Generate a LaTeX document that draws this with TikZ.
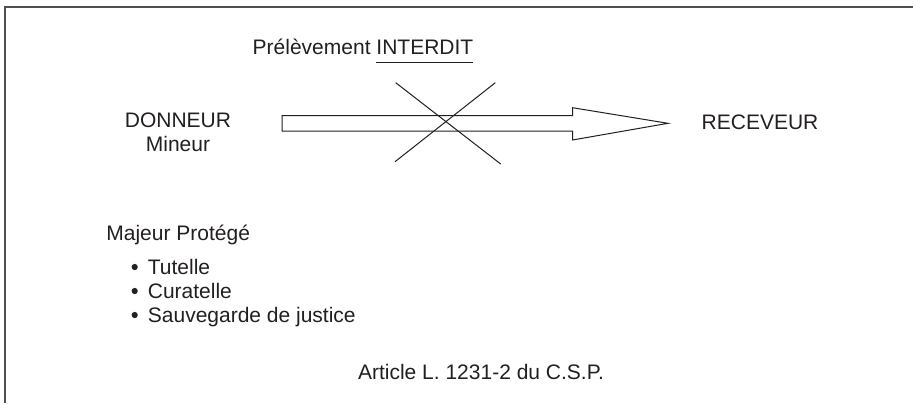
\documentclass[tikz,border=0pt]{standalone}
\usepackage{fontspec}
\setmainfont{Liberation Sans}
\usepackage{tikz}
\usetikzlibrary{positioning,calc}
\definecolor{cink}{RGB}{35,31,32}
\definecolor{cframe}{RGB}{80,80,80}
\newcommand\souligne[1]{\setbox0\hbox{#1}\rlap{\rule[-4.6pt]{\wd0}{0.5pt}}\box0}

\begin{document}
\begin{tikzpicture}[x=0.5pt, y=-0.5pt,
    txt/.style={inner sep=0pt, anchor=base, text=cink, font=\fontsize{10.5}{12}\selectfont},
    trait/.style={draw=cink, line width=0.5pt}]
  \useasboundingbox (0,0) rectangle (913,403);
  % cadre
  \draw[cframe, line width=0.8pt] (5,403) -- (5,7) -- (913,7);

  \node[txt] (titre) at (363,54) {Prélèvement \souligne{INTERDIT}};
  \node[txt] (donneur) at (178,127) {DONNEUR};
  \node[txt] (mineur) at (178,151) {Mineur};
  \node[txt] (receveur) at (760,129) {RECEVEUR};

  % grosse fleche donneur -> receveur
  \coordinate (queue) at (282,123.3);
  \coordinate (pointe) at (668,123.3);
  \draw[trait, fill=white] ($(queue)+(0,-7.7)$) -- ($(pointe)+(-95.5,-7.7)$)
    -- ($(pointe)+(-95.5,-15.6)$) -- (pointe) -- ($(pointe)+(-95.5,16.7)$)
    -- ($(pointe)+(-95.5,7.7)$) -- ($(queue)+(0,7.7)$) -- cycle;
  % croix
  \draw[trait] (395.7,82.7) -- (500.7,164);
  \draw[trait] (495.3,82.7) -- (395,161.7);

  \node[txt, anchor=base west] (majeur) at (106,240.5) {Majeur Protégé};
  % liste a puces
  \foreach \txtitem [count=\i] in {Tutelle, Curatelle, Sauvegarde de justice} {
    \node[txt, anchor=base west] (b\i) at (147.5,250+24*\i) {\txtitem};
    \fill[cink] ($(b\i.base west)+(-12.8,-7)$) circle (3.1);
  }

  \node[txt] (article) at (481,379.3) {Article L. 1231-2 du C.S.P.};
\end{tikzpicture}
\end{document}
